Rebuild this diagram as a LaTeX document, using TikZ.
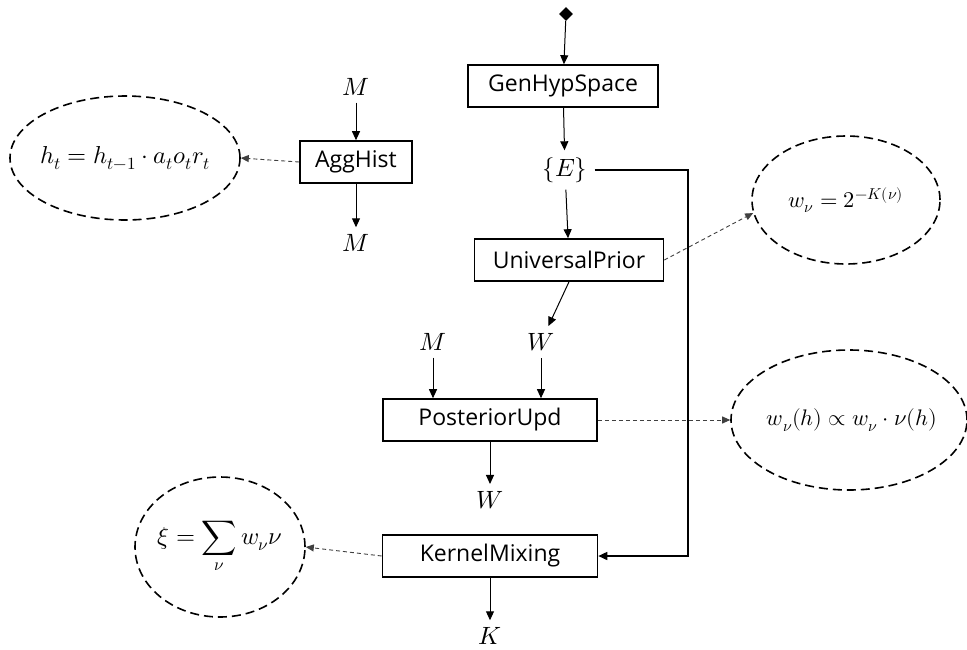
\documentclass[tikz,border=0pt]{standalone}
\usepackage{fontspec}
\usepackage{unicode-math}
\setmathfont{Latin Modern Math}
\setsansfont{Open Sans}
\usetikzlibrary{arrows.meta,shapes.geometric,calc}
\begin{document}
\begin{tikzpicture}[x=1pt,y=-1pt,
  box/.style={draw,line width=1.6pt,minimum height=42pt,inner sep=0pt,font=\fontsize{23}{26}\sffamily},
  lab/.style={inner sep=7pt,font=\fontsize{25}{28}\selectfont},
  arr/.style={line width=1pt,-{Triangle[length=9pt,width=8pt]}},
  darr/.style={line width=0.9pt,draw=black!75,dash pattern=on 4pt off 3pt,-{Triangle[length=8pt,width=7pt]}},
  ell/.style={ellipse,draw,line width=1.6pt,dash pattern=on 9pt off 5pt,inner sep=0pt},
  ellsmall/.style={font=\fontsize{22.5}{25}\selectfont},
  ellbig/.style={font=\fontsize{24.5}{28}\selectfont}]
\useasboundingbox (0,0) rectangle (967,649);
\node[diamond,fill,inner sep=3.5pt] (start) at (566,14) {};
\node[box,minimum width=190pt] (gen) at (563,86) {GenHypSpace};
\node[lab] (E) at (565,170) {$\{E\}$};
\node[box,minimum width=189pt] (univ) at (569,260) {UniversalPrior};
\node[lab] (W1) at (541,342) {$W$};
\node[lab] (mC) at (433,342) {$M$};
\node[box,minimum width=214pt] (post) at (490,420) {PosteriorUpd};
\node[lab] (W2) at (490,500) {$W$};
\node[box,minimum width=215pt] (kern) at (490,556) {KernelMixing};
\node[lab] (K) at (490,636) {$K$};
\node[box,minimum width=112pt] (agg) at (356,162) {AggHist};
\node[lab] (mA) at (356,87) {$M$};
\node[lab] (mB) at (356,243) {$M$};
\node[ell,ellbig,minimum width=230pt,minimum height=124pt] (ht) at (125,158) {\makebox[0pt]{$h_t = h_{t-1}\cdot a_t o_t r_t$}};
\node[ell,ellsmall,minimum width=188pt,minimum height=128pt] (wn) at (846,200) {\makebox[0pt]{$w_\nu = 2^{-K(\nu)}$}};
\node[ell,ellsmall,minimum width=236pt,minimum height=140pt] (wh) at (849,420) {\makebox[0pt]{\hspace{6pt}$w_\nu(h) \propto w_\nu\cdot\nu(h)$}};
\node[ell,ellbig,minimum width=170pt,minimum height=140pt] (xi) at (220,547) {\makebox[0pt]{$\xi = \displaystyle\sum_\nu w_\nu\nu$}};
\coordinate (loop) at (688,166);
\draw[arr] (start) -- (gen);
\draw[arr] (gen) -- (E);
\draw[arr] (E) -- (univ);
\draw[arr] (univ.south) -- (W1);
\draw[arr] (mC) -- (mC |- post.north);
\draw[arr] (W1) -- (W1 |- post.north);
\draw[arr] (post) -- (W2);
\draw[arr] (kern) -- (K);
\draw[arr] (mA) -- (agg);
\draw[arr] (agg) -- (mB);
\draw[arr,line width=1.6pt] (E.east) -- (E.east -| loop) |- (kern.east);
\draw[darr] (agg.west) -- (ht.east);
\draw[darr] (univ.east) -- (wn.188);
\draw[darr] (post.east) -- (wh.west);
\draw[darr] (kern.west) -- (xi.east);
\end{tikzpicture}
\end{document}
